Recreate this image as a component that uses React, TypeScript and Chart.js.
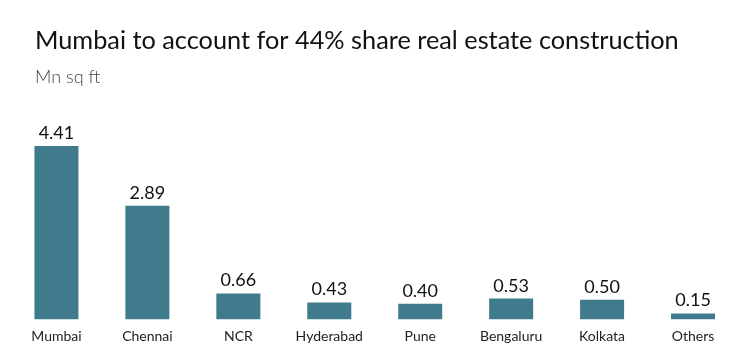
import React, { useEffect, useRef } from "react";
import { Chart, registerables } from "chart.js";

Chart.register(...registerables);

const TITLE = "Mumbai to account for 44% share real estate construction";
const SUBTITLE = "Mn sq ft";
const categories = ["Mumbai", "Chennai", "NCR", "Hyderabad", "Pune", "Bengaluru", "Kolkata", "Others"];
const values = [4.41, 2.89, 0.66, 0.43, 0.4, 0.53, 0.5, 0.15];

const FONT = "Lato, 'Noto Sans', sans-serif";
const BAR_COLOR = "#3f7b8d";

const headerPlugin = {
  id: "header",
  afterDraw(chart: any) {
    const ctx = chart.ctx;
    ctx.save();
    ctx.textAlign = "left";
    ctx.textBaseline = "alphabetic";
    ctx.fillStyle = "#111111";
    ctx.font = `400 25.3px ${FONT}`;
    ctx.fillText(TITLE, 35, 48.5);
    ctx.fillStyle = "#444444";
    ctx.font = `300 18px ${FONT}`;
    ctx.fillText(SUBTITLE, 35, 83);
    ctx.restore();
  },
};

const valueLabelPlugin = {
  id: "valueLabels",
  afterDatasetsDraw(chart: any) {
    const ctx = chart.ctx;
    const meta = chart.getDatasetMeta(0);
    ctx.save();
    ctx.textAlign = "center";
    ctx.textBaseline = "alphabetic";
    ctx.fillStyle = "#111111";
    ctx.font = `400 18px ${FONT}`;
    meta.data.forEach((bar: any, i: number) => {
      ctx.fillText(values[i].toFixed(2), bar.x, bar.y - 7);
    });
    ctx.restore();
  },
};

export default function App() {
  const ref = useRef<HTMLCanvasElement | null>(null);
  useEffect(() => {
    if (!ref.current) return;
    const chart = new Chart(ref.current, {
      type: "bar",
      data: {
        labels: categories,
        datasets: [
          {
            data: values,
            backgroundColor: BAR_COLOR,
            borderWidth: 0,
            barPercentage: 0.484,
            categoryPercentage: 1,
          },
        ],
      },
      options: {
        animation: false,
        responsive: false,
        layout: { padding: { left: 11, right: 5.5, top: 122.7, bottom: 9.8 } },
        plugins: {
          legend: { display: false },
          title: { display: false },
          tooltip: { enabled: false },
        },
        scales: {
          x: {
            grid: { display: false, drawTicks: false },
            border: { display: false },
            ticks: {
              padding: 9,
              color: "#222222",
              font: { family: FONT, size: 14 },
              maxRotation: 0,
              autoSkip: false,
            },
          },
          y: {
            display: false,
            min: 0,
            max: 5,
          },
        },
      },
      plugins: [headerPlugin, valueLabelPlugin],
    });
    return () => chart.destroy();
  }, []);
  return (
    <div style={{ position: "absolute", left: 0, top: 0, width: 744, height: 364, background: "#fff" }}>
      <canvas ref={ref} width={744} height={364} style={{ display: "block" }} />
    </div>
  );
}
